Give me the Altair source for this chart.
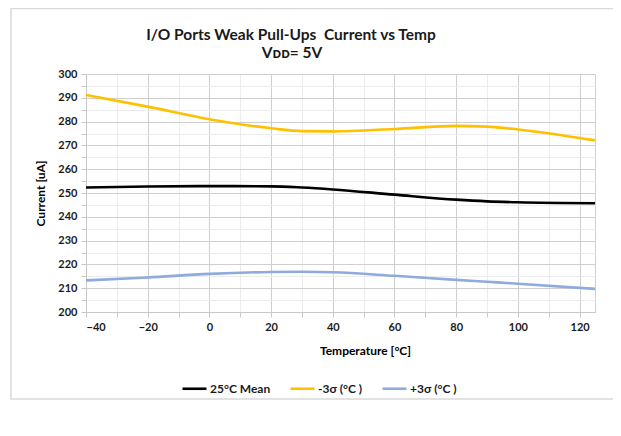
import altair as alt
import pandas as pd

temps = [-40, -20, 0, 20, 30, 40, 60, 80, 90, 100, 125]
mean_25 = [252.3, 252.7, 252.9, 252.8, 252.3, 251.5, 249.3, 247.2, 246.5, 246.1, 245.7]
minus_3s = [291.2, 286.3, 281.0, 277.2, 276.0, 275.9, 276.9, 278.2, 277.9, 276.7, 272.1]
plus_3s = [213.3, 214.5, 216.0, 216.8, 216.9, 216.7, 215.2, 213.5, 212.7, 211.9, 209.7]

series_names = ["25°C Mean", "-3σ (°C )", "+3σ (°C )"]
series_colors = ["#000000", "#FFC000", "#8FAADC"]

title_line1 = "I/O Ports Weak Pull-Ups\u00a0 Current vs Temp"
title_line2 = "Vᴅᴅ= 5V"

x_ticks = list(range(-40, 121, 10))
y_ticks = list(range(200, 301, 5))

rows = []
for name, vals in zip(series_names, [mean_25, minus_3s, plus_3s]):
    for t, v in zip(temps, vals):
        rows.append({"Temp": t, "Current": v, "Series": name})
df = pd.DataFrame(rows)

FONT = "Lato"
grid_x = {"condition": {"test": "datum.value % 20 === 0", "value": "#cfcfcf"}, "value": "#ececec"}
grid_y = {"condition": {"test": "datum.value % 10 === 0", "value": "#cfcfcf"}, "value": "#ececec"}

lines = alt.Chart(df).mark_line(interpolate="monotone", strokeWidth=2.6).encode(
    x=alt.X("Temp:Q", scale=alt.Scale(domain=[-40, 125], nice=False, zero=False),
            axis=alt.Axis(values=x_ticks, labelExpr="datum.value % 20 === 0 ? datum.label : ''",
                          title="Temperature [°C]", grid=True, gridColor=grid_x,
                          titleX=279, titleY=38, titleBaseline="middle",
                          labelPadding=4, tickSize=5)),
    y=alt.Y("Current:Q", scale=alt.Scale(domain=[200, 300], nice=False, zero=False),
            axis=alt.Axis(values=y_ticks, labelExpr="datum.value % 10 === 0 ? datum.label : ''",
                          title="Current [uA]", grid=True, gridColor=grid_y,
                          titleX=-46, titleY=119, titleBaseline="middle", titleAlign="center",
                          labelPadding=4, tickSize=5)),
    color=alt.Color("Series:N", scale=alt.Scale(domain=series_names, range=series_colors),
                    legend=alt.Legend(title=None, orient="none", direction="horizontal",
                                      legendX=95, legendY=301, symbolType="stroke",
                                      symbolSize=576, symbolStrokeWidth=2.6,
                                      labelOffset=2, columnPadding=14, padding=0)),
)

one = pd.DataFrame({"a": [0]})
frame = alt.Chart(one).mark_rect(
    fill=None, stroke="#d9d9d9", strokeWidth=1.5
).encode(x=alt.value(-75), x2=alt.value(620), y=alt.value(-65.5), y2=alt.value(325))

t1 = alt.Chart(one).mark_text(
    text=title_line1, font=FONT, fontSize=15.5, fontWeight="bold", color="#1a1a1a",
    align="center", baseline="alphabetic"
).encode(x=alt.value(205), y=alt.value(-34))
t2 = alt.Chart(one).mark_text(
    text=title_line2, font=FONT, fontSize=15.5, fontWeight="bold", color="#1a1a1a",
    align="center", baseline="alphabetic"
).encode(x=alt.value(206), y=alt.value(-16))

chart = alt.layer(frame, lines, t1, t2).properties(
    width=509, height=238,
    autosize=alt.AutoSizeParams(type="none"),
    padding={"left": 78, "top": 66, "right": 18, "bottom": 110},
).configure_view(stroke="#cfcfcf").configure_axis(
    labelFont=FONT, labelFontSize=11, labelFontWeight="bold", labelColor="#1a1a1a",
    titleFont=FONT, titleFontSize=12, titleFontWeight="bold", titleColor="#000000",
    domainColor="#c8c8c8", tickColor="#c8c8c8",
).configure_legend(
    labelFont=FONT, labelFontSize=12, labelFontWeight="bold", labelColor="#1a1a1a",
)

chart.save("out.html", embed_options={"renderer": "svg", "actions": False})
